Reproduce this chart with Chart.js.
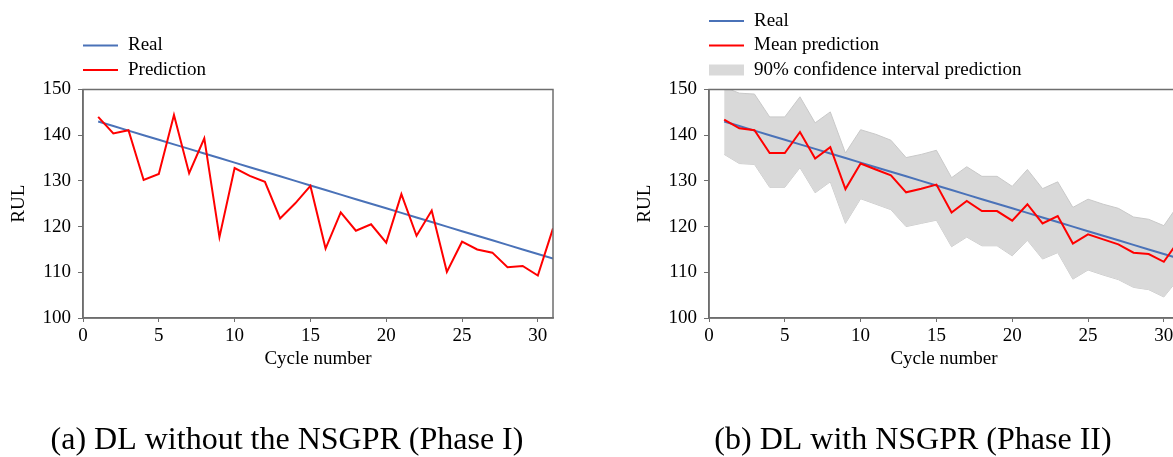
<!DOCTYPE html>
<html>
<head>
<meta charset="utf-8">
<script src="https://cdn.jsdelivr.net/npm/chart.js@4"></script>
<style>
  html, body { margin: 0; padding: 0; background: #fff; }
  body { width: 1173px; height: 457px; overflow: hidden; position: relative; }
  canvas { position: absolute; top: 0; }
  #chartA { left: 0; }
  #chartB { left: 626px; }
</style>
</head>
<body>
<canvas id="chartA" width="575" height="460"></canvas>
<canvas id="chartB" width="575" height="460"></canvas>
<script>
// values
const cycles = [1,2,3,4,5,6,7,8,9,10,11,12,13,14,15,16,17,18,19,20,21,22,23,24,25,26,27,28,29,30,31];
const realRUL = [143,142,141,140,139,138,137,136,135,134,133,132,131,130,129,128,127,126,125,124,123,122,121,120,119,118,117,116,115,114,113];
const predNoGPR = [144.0,140.4,141.1,130.2,131.5,144.4,131.7,139.3,117.7,132.8,131.1,129.8,121.8,125.1,128.9,115.2,123.1,119.1,120.5,116.5,127.1,118.0,123.5,110.1,116.7,115.0,114.3,111.1,111.4,109.3,119.6];
const meanPred = [143.4,141.5,141.1,136.1,136.1,140.7,134.9,137.4,128.2,133.8,132.5,131.2,127.5,128.3,129.2,123.1,125.6,123.4,123.4,121.3,124.9,120.7,122.3,116.3,118.3,117.2,116.1,114.3,114.0,112.3,117.0];
const ciUpper = [150.5,149.2,149.0,144.0,144.0,148.4,142.7,145.1,136.1,141.2,140.2,138.9,135.1,135.8,136.7,130.7,133.1,131.0,131.0,128.8,132.5,128.3,129.8,124.2,126.0,124.9,124.0,122.1,121.6,120.2,125.0];
const ciLower = [135.8,133.8,133.6,128.6,128.6,132.9,127.4,129.8,120.7,126.1,124.9,123.7,120.0,120.7,121.4,115.6,117.7,115.8,115.8,113.6,117.0,112.9,114.3,108.5,110.5,109.4,108.4,106.7,106.2,104.6,108.7];
const xTicks = [0,5,10,15,20,25,30];
const yTicks = [100,110,120,130,140,150];

const BLUE = '#4a72b8';
const RED = '#ff0000';
const FRAME = '#6e6e6e';
const SERIF = '"Liberation Serif", "Times New Roman", serif';

const pts = vals => vals.map((v, i) => ({x: cycles[i], y: v}));

// box round the plot + stacked legend above it
const frameAndLegend = {
  id: 'frameAndLegend',
  afterDraw(chart, args, opts) {
    const {ctx, chartArea: a} = chart;
    ctx.save();
    ctx.strokeStyle = FRAME;
    ctx.lineWidth = 1.5;
    ctx.strokeRect(a.left, a.top, a.right - a.left, a.bottom - a.top);

    const ds = chart.data.datasets;
    const order = opts.order;
    ctx.font = '19px ' + SERIF;
    ctx.fillStyle = '#000';
    ctx.textBaseline = 'middle';
    order.forEach((idx, row) => {
      const d = ds[idx];
      const y = a.top - 19.5 - (order.length - 1 - row) * 24.5;
      const x0 = a.left;
      if (d.fill) {
        ctx.fillStyle = d.backgroundColor;
        ctx.fillRect(x0, y - 5.5, 35, 11);
      } else {
        ctx.strokeStyle = d.borderColor;
        ctx.lineWidth = 2;
        ctx.beginPath();
        ctx.moveTo(x0, y);
        ctx.lineTo(x0 + 35, y);
        ctx.stroke();
      }
      ctx.fillStyle = '#000';
      ctx.fillText(d.label, x0 + 45, y);
    });
    ctx.restore();
  }
};

function makeChart(id, datasets, legendOrder, caption) {
  const tickFont = {family: SERIF, size: 19};
  return new Chart(document.getElementById(id), {
    type: 'line',
    data: {datasets: datasets},
    plugins: [frameAndLegend],
    options: {
      responsive: false,
      animation: false,
      layout: {padding: {top: 89.5, right: 22, left: 21, bottom: 0}},
      elements: {point: {radius: 0}, line: {tension: 0}},
      plugins: {
        legend: {display: false},
        tooltip: {enabled: false},
        frameAndLegend: {order: legendOrder},
        title: {
          display: true, position: 'bottom', text: caption, color: '#000',
          font: {family: SERIF, size: 32, weight: 'normal'},
          padding: {top: 0, bottom: 0}
        }
      },
      scales: {
        x: {
          type: 'linear', min: 0, max: 31,
          afterBuildTicks: s => { s.ticks = xTicks.map(v => ({value: v})); },
          afterFit: s => { s.height = 103.6; },
          grid: {display: true, drawOnChartArea: false, tickLength: 4, color: FRAME},
          border: {color: FRAME, width: 1.5},
          ticks: {color: '#000', font: tickFont, padding: 3, maxRotation: 0},
          title: {display: true, text: 'Cycle number', color: '#000', font: tickFont, padding: {top: 0, bottom: 51}}
        },
        y: {
          min: 100, max: 150,
          afterBuildTicks: s => { s.ticks = yTicks.map(v => ({value: v})); },
          afterFit: s => { s.width = 62; },
          grid: {display: true, drawOnChartArea: false, tickLength: 5, color: FRAME},
          border: {color: FRAME, width: 1.5},
          ticks: {color: '#000', font: tickFont, padding: 7},
          title: {display: true, text: 'RUL', color: '#000', font: tickFont, padding: {top: -13, bottom: 0}}
        }
      }
    }
  });
}

makeChart('chartA', [
  {label: 'Prediction', data: pts(predNoGPR), borderColor: RED, borderWidth: 2, fill: false},
  {label: 'Real', data: pts(realRUL), borderColor: BLUE, borderWidth: 2, fill: false}
], [1, 0], '(a) DL without the NSGPR (Phase I)');

makeChart('chartB', [
  {label: 'Mean prediction', data: pts(meanPred), borderColor: RED, borderWidth: 2, fill: false},
  {label: 'Real', data: pts(realRUL), borderColor: BLUE, borderWidth: 2, fill: false},
  {label: '90% confidence interval prediction', data: pts(ciUpper), borderColor: '#c9c9c9', borderWidth: 1, backgroundColor: '#d9d9d9', fill: '+1'},
  {data: pts(ciLower), borderColor: '#c9c9c9', borderWidth: 1, fill: false}
], [1, 0, 2], '(b) DL with NSGPR (Phase II)');
</script>
</body>
</html>
